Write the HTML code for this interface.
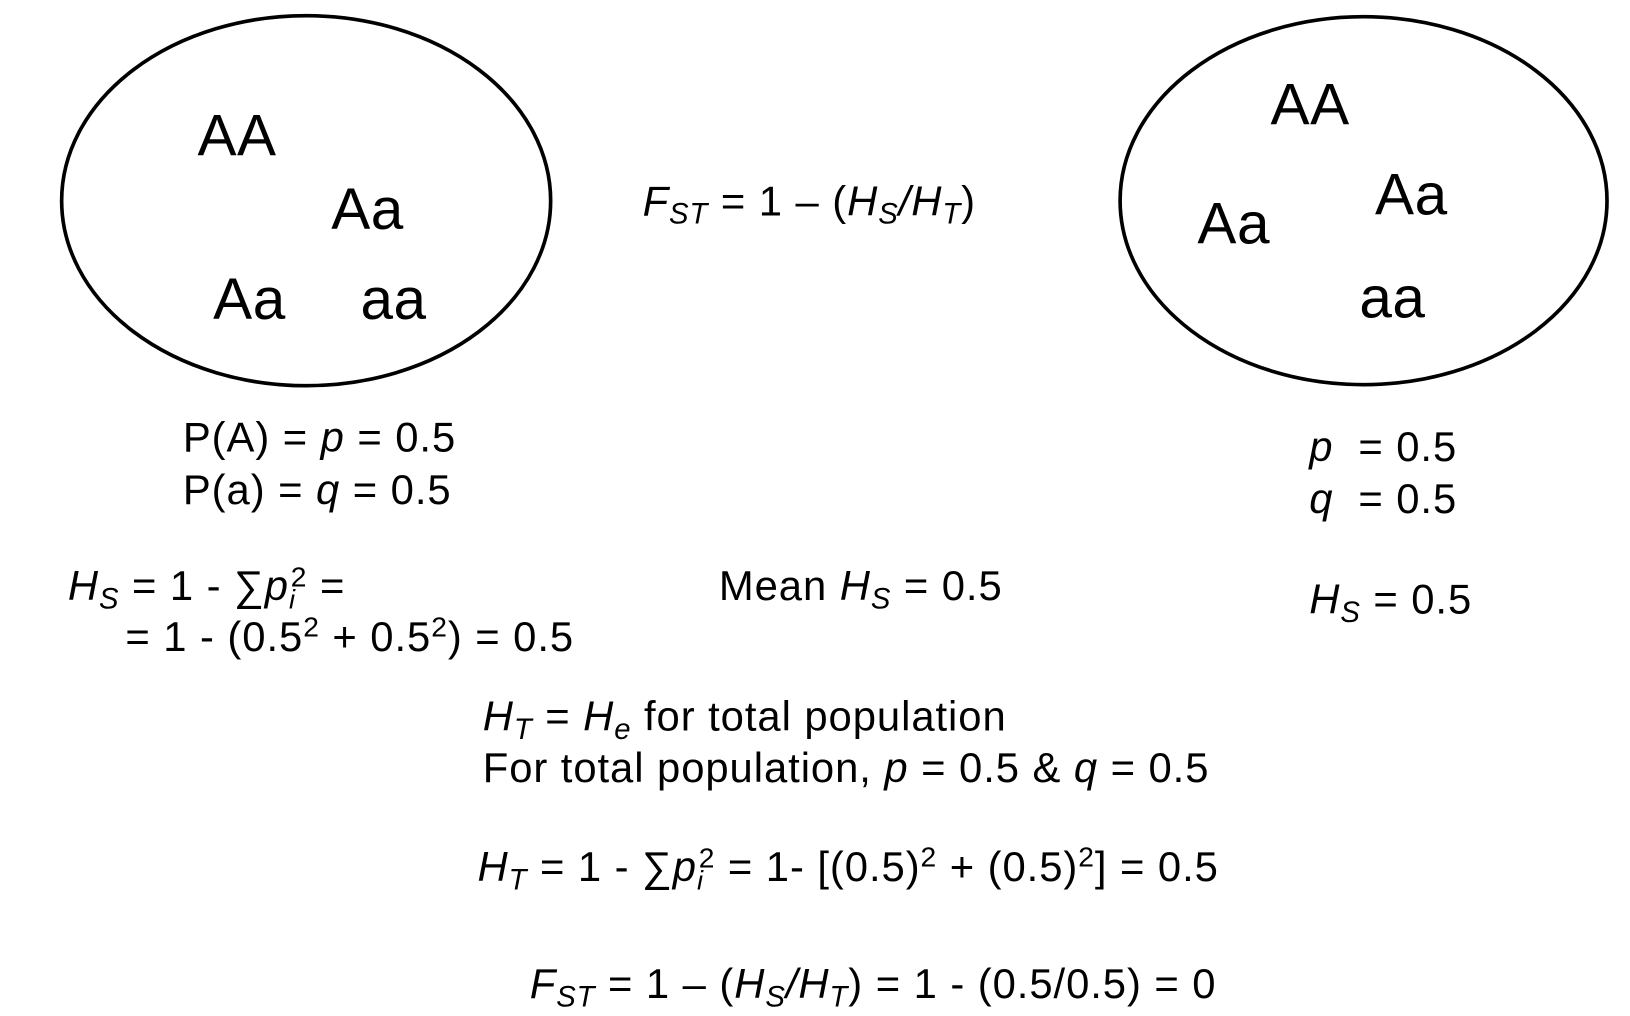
<!DOCTYPE html>
<html><head><meta charset="utf-8"><style>
html,body{margin:0;padding:0;background:#fff;width:1630px;height:1016px;overflow:hidden}
svg{display:block}
text{font-family:"Liberation Sans",Arial,sans-serif;fill:#000}
.b{font-size:56px;letter-spacing:0.5px}.t{font-size:40px;letter-spacing:0.9px}
</style></head><body>
<svg width="1630" height="1016" viewBox="0 0 1560 972" preserveAspectRatio="none">
<ellipse cx="293" cy="192" rx="234" ry="177" fill="none" stroke="#000" stroke-width="3.5"/>
<text class="b" x="189" y="149">AA</text>
<text class="b" x="317" y="219">Aa</text>
<text class="b" x="204" y="305">Aa</text>
<text class="b" x="345" y="305">aa</text>
<ellipse cx="1305" cy="192" rx="233" ry="176" fill="none" stroke="#000" stroke-width="3.5"/>
<text class="b" x="1216" y="119">AA</text>
<text class="b" x="1316" y="205">Aa</text>
<text class="b" x="1146" y="233">Aa</text>
<text class="b" x="1301" y="304">aa</text>
<text class="t" x="615" y="206"><tspan font-style="italic">F</tspan><tspan font-style="italic" font-size="28" dy="8">ST</tspan><tspan dy="-8"> = 1 – (</tspan><tspan font-style="italic">H</tspan><tspan font-style="italic" font-size="28" dy="8">S</tspan><tspan dy="-8" font-style="italic">/H</tspan><tspan font-style="italic" font-size="28" dy="8">T</tspan><tspan dy="-8">)</tspan></text>
<text class="t" x="175" y="432">P(A) = <tspan font-style="italic">p</tspan> = 0.5</text>
<text class="t" x="175" y="482">P(a) = <tspan font-style="italic">q</tspan> = 0.5</text>
<text class="t" x="1253" y="441" font-style="italic">p</text>
<text class="t" x="1300" y="441">= 0.5</text>
<text class="t" x="1253" y="491" font-style="italic">q</text>
<text class="t" x="1300" y="491">= 0.5</text>
<text class="t" x="65" y="574"><tspan font-style="italic">H</tspan><tspan font-style="italic" font-size="28" dy="8">S</tspan><tspan dy="-8"> = 1 - ∑</tspan><tspan font-style="italic">p</tspan><tspan font-style="italic" font-size="26" dy="8">i</tspan><tspan font-size="27" dy="-21" dx="-5">2</tspan><tspan dy="13"> =</tspan></text>
<text class="t" x="120" y="623">= 1 - (0.5<tspan font-size="27" dy="-14">2</tspan><tspan dy="14"> + 0.5</tspan><tspan font-size="27" dy="-14">2</tspan><tspan dy="14">) = 0.5</tspan></text>
<text class="t" x="688" y="574">Mean <tspan font-style="italic">H</tspan><tspan font-style="italic" font-size="28" dy="8">S</tspan><tspan dy="-8"> = 0.5</tspan></text>
<text class="t" x="1253" y="587"><tspan font-style="italic">H</tspan><tspan font-style="italic" font-size="28" dy="8">S</tspan><tspan dy="-8"> = 0.5</tspan></text>
<text class="t" x="462" y="699"><tspan font-style="italic">H</tspan><tspan font-style="italic" font-size="28" dy="8">T</tspan><tspan dy="-8"> = </tspan><tspan font-style="italic">H</tspan><tspan font-style="italic" font-size="28" dy="8">e</tspan><tspan dy="-8"> for total population</tspan></text>
<text class="t" x="462" y="748">For total population, <tspan font-style="italic">p</tspan> = 0.5 &amp; <tspan font-style="italic">q</tspan> = 0.5</text>
<text class="t" x="457" y="843"><tspan font-style="italic">H</tspan><tspan font-style="italic" font-size="28" dy="8">T</tspan><tspan dy="-8"> = 1 - ∑</tspan><tspan font-style="italic">p</tspan><tspan font-style="italic" font-size="26" dy="8">i</tspan><tspan font-size="27" dy="-21" dx="-5">2</tspan><tspan dy="13"> = 1- [(0.5)</tspan><tspan font-size="27" dy="-14">2</tspan><tspan dy="14"> + (0.5)</tspan><tspan font-size="27" dy="-14">2</tspan><tspan dy="14">] = 0.5</tspan></text>
<text class="t" x="507" y="955"><tspan font-style="italic">F</tspan><tspan font-style="italic" font-size="28" dy="8">ST</tspan><tspan dy="-8"> = 1 – (</tspan><tspan font-style="italic">H</tspan><tspan font-style="italic" font-size="28" dy="8">S</tspan><tspan dy="-8" font-style="italic">/H</tspan><tspan font-style="italic" font-size="28" dy="8">T</tspan><tspan dy="-8">) = 1 - (0.5/0.5) = 0</tspan></text>
</svg>
</body></html>
